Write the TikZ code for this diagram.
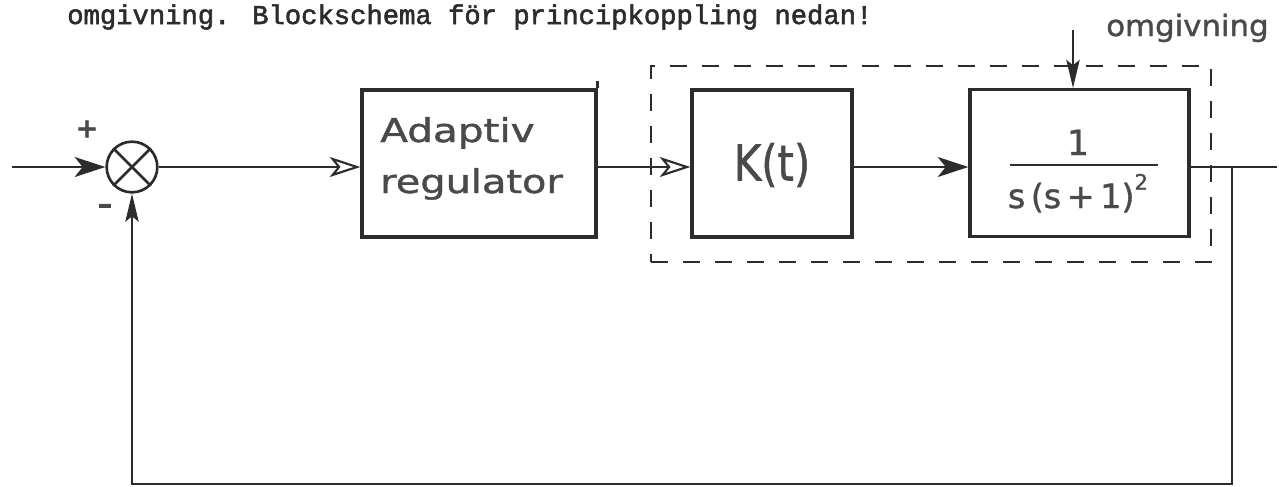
\documentclass[tikz,border=0pt]{standalone}
\usepackage{fontspec}
\setmainfont{DejaVu Sans}
\newfontfamily\typewriter{Liberation Mono}[FakeBold=2]
\newfontfamily\hand{DejaVu Sans}[FakeBold=1.2]
\usetikzlibrary{arrows.meta}
\definecolor{ink}{HTML}{2C2C2C}
\definecolor{pencil}{HTML}{4A4A4A}
\begin{document}
\begin{tikzpicture}[x=0.75pt,y=-0.75pt,
  blk/.style={draw=ink, line width=2.4pt, inner sep=0pt, minimum height=110.25pt},
  sig/.style={draw=ink, line width=1.5pt},
  fillarr/.style={-{Stealth[length=23pt,width=15pt,inset=6pt]}},
  narrowarr/.style={-{Stealth[length=21pt,width=10pt,inset=4pt]}},
  openarr/.style={-{Stealth[open,length=23pt,width=15pt,inset=6pt,line width=1.6pt]}},
  handtxt/.style={text=pencil, inner sep=0pt, font=\hand},
]
\useasboundingbox (0,0) rectangle (1279,486);

% top typed text
\node[anchor=base west, inner sep=0pt, text=ink] (head) at (67,24)
  {\typewriter\fontsize{20.4pt}{24pt}\selectfont omgivning. Blockschema för principkoppling nedan!};

% dashed environment box
\node[draw=ink, line width=1.3pt, dash pattern=on 13pt off 11pt, inner sep=0pt,
      minimum width=420pt, minimum height=147pt] (env) at (931,164) {};

% blocks
\node[blk, minimum width=175.5pt] (reg) at (479,163.5) {};
\node[blk, minimum width=120pt] (K) at (772,163.5) {};
\node[blk, minimum width=164.25pt] (G) at (1079.5,163) {};
\draw[ink, line width=2.4pt] (reg.north east) -- ++(0,-7);

% summation point
\node[draw=ink, circle, line width=2pt, minimum size=38pt, inner sep=0pt] (sum) at (132,167) {};
\draw[ink, line width=2pt] (sum.45) -- (sum.225) (sum.135) -- (sum.315);

% texts in blocks
\node[handtxt, anchor=base west] (t1) at (380,142)
  {\fontsize{24.5pt}{28pt}\selectfont\scalebox{1.24}[1]{Adaptiv}};
\node[handtxt, anchor=base west] (t2) at (380,193)
  {\fontsize{24.5pt}{28pt}\selectfont\scalebox{1.22}[1]{regulator}};
\node[handtxt] (kt) at (772,165)
  {\fontsize{37pt}{40pt}\selectfont\scalebox{0.85}[1]{K(t)}};
\node[handtxt, anchor=base] (num) at (1078,155)
  {\fontsize{26pt}{30pt}\selectfont 1};
\coordinate (barl) at (1010,165);
\coordinate (barr) at (1158,165);
\draw[ink, line width=1.8pt] (barl) -- (barr);
\node[handtxt, anchor=base] (den) at (1078,208)
  {\fontsize{25pt}{28pt}\selectfont s\,(s\,+\,1)\raisebox{0.55em}{\fontsize{16pt}{18pt}\selectfont 2}};

% signs
\node[handtxt, font=\hand\bfseries\fontsize{20pt}{20pt}\selectfont] (plus) at (87,129) {+};
\node[handtxt, font=\hand\bfseries\fontsize{22pt}{22pt}\selectfont] (minus) at (105,209) {–};

% environment label and arrow
\node[handtxt, anchor=base west] (omg) at (1106,36)
  {\fontsize{22pt}{24pt}\selectfont\scalebox{1.05}[1]{omgivning}};
\coordinate (envtop) at (1073,30);
\draw[sig, narrowarr] (envtop) -- (envtop |- G.north);

% signal path
\coordinate (in) at (12,167);
\coordinate (out) at (1277,167);
\coordinate (br) at (1232,167);
\coordinate (fb) at (1232,484);
\draw[sig, fillarr] (in) -- (sum.west);
\draw[sig, openarr] (sum.east) -- (sum.east -| reg.west);
\draw[sig, openarr] (sum.east -| reg.east) -- (sum.east -| K.west);
\draw[sig, fillarr] (sum.east -| K.east) -- (sum.east -| G.west);
\draw[sig] (sum.east -| G.east) -- (out);
\draw[sig, narrowarr] (br) -- (fb) -| (sum.south);
\end{tikzpicture}
\end{document}
